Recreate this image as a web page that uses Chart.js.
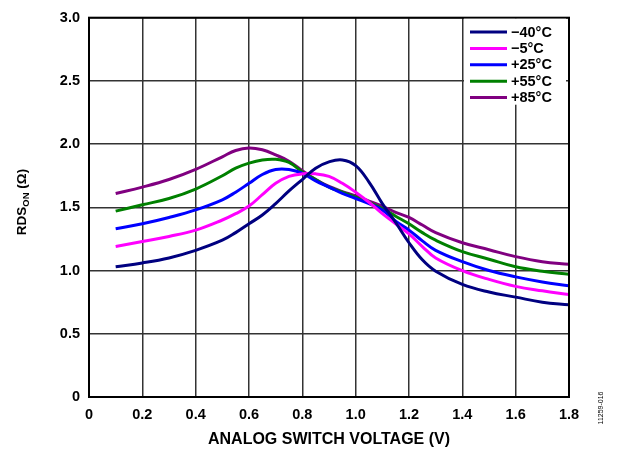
<!DOCTYPE html>
<html>
<head>
<meta charset="utf-8">
<script src="https://cdn.jsdelivr.net/npm/chart.js@4/dist/chart.umd.min.js"></script>
<style>
  html, body { margin: 0; padding: 0; background: #ffffff; }
  #wrap { width: 623px; height: 455px; }
</style>
</head>
<body>
<div id="wrap"><canvas id="c" width="623" height="455"></canvas></div>
<script>
// ---- data ----
const xValues = [0.1, 0.2, 0.3, 0.4, 0.5, 0.55, 0.6, 0.65, 0.7, 0.75, 0.8, 0.85, 0.9, 0.95, 1.0, 1.05, 1.1, 1.15, 1.2, 1.25, 1.3, 1.4, 1.5, 1.6, 1.7, 1.8];
const seriesLabels = ['\u221240\u00B0C', '\u22125\u00B0C', '+25\u00B0C', '+55\u00B0C', '+85\u00B0C'];
const rdsMinus40 = [1.03, 1.06, 1.10, 1.16, 1.24, 1.30, 1.37, 1.44, 1.53, 1.63, 1.72, 1.81, 1.86, 1.875, 1.83, 1.70, 1.53, 1.38, 1.22, 1.085, 0.995, 0.89, 0.83, 0.79, 0.75, 0.73];
const rdsMinus5  = [1.19, 1.23, 1.27, 1.32, 1.40, 1.45, 1.51, 1.60, 1.69, 1.745, 1.765, 1.765, 1.745, 1.69, 1.62, 1.54, 1.45, 1.37, 1.29, 1.19, 1.10, 1.00, 0.93, 0.875, 0.84, 0.81];
const rdsPlus25  = [1.33, 1.37, 1.42, 1.48, 1.56, 1.62, 1.69, 1.76, 1.80, 1.80, 1.77, 1.71, 1.66, 1.61, 1.57, 1.53, 1.48, 1.39, 1.32, 1.235, 1.16, 1.07, 1.00, 0.95, 0.91, 0.88];
const rdsPlus55  = [1.47, 1.52, 1.57, 1.645, 1.75, 1.81, 1.85, 1.875, 1.88, 1.855, 1.78, 1.72, 1.66, 1.62, 1.58, 1.54, 1.49, 1.43, 1.37, 1.30, 1.24, 1.15, 1.09, 1.03, 0.995, 0.97];
const rdsPlus85  = [1.61, 1.66, 1.72, 1.80, 1.90, 1.95, 1.97, 1.955, 1.915, 1.865, 1.79, 1.72, 1.665, 1.625, 1.59, 1.55, 1.51, 1.46, 1.42, 1.36, 1.30, 1.22, 1.165, 1.11, 1.07, 1.05];
const seriesColors = ['#000080', '#ff00ff', '#0000ff', '#008000', '#800080'];
const xTickStep = 0.2, xMin = 0, xMax = 1.8;
const yTickStep = 0.5, yMin = 0, yMax = 3.0;
const xTitle = 'ANALOG SWITCH VOLTAGE (V)';
const figureId = '11259-016';

const allSeries = [rdsMinus40, rdsMinus5, rdsPlus25, rdsPlus55, rdsPlus85];
const FONT = '"Liberation Sans", Arial, sans-serif';

const datasets = allSeries.map((s, k) => ({
  label: seriesLabels[k],
  data: xValues.map((x, i) => ({ x: x, y: s[i] })),
  borderColor: seriesColors[k],
  backgroundColor: seriesColors[k],
  borderWidth: 3,
  pointRadius: 0,
  fill: false,
  tension: 0.4
}));

const fmt = v => (Math.abs(v) < 1e-9 ? '0' : Number(v).toFixed(1));

const decor = {
  id: 'decor',
  afterDraw(chart) {
    const ctx = chart.ctx;
    const a = chart.chartArea;
    ctx.save();
    // plot frame
    ctx.strokeStyle = '#000';
    ctx.lineWidth = 2;
    ctx.strokeRect(a.left, a.top, a.right - a.left, a.bottom - a.top);

    // legend
    ctx.fillStyle = '#fff';
    ctx.fillRect(464, a.top + 1, 102, 86);
    ctx.font = 'bold 14.5px ' + FONT;
    ctx.textBaseline = 'middle';
    ctx.textAlign = 'left';
    chart.data.datasets.forEach((d, i) => {
      const y = 32 + i * 16.4;
      ctx.strokeStyle = d.borderColor;
      ctx.lineWidth = 3;
      ctx.beginPath();
      ctx.moveTo(470, y);
      ctx.lineTo(507, y);
      ctx.stroke();
      ctx.fillStyle = '#000';
      ctx.fillText(d.label, 511, y + 0.5);
    });

    // x title
    ctx.fillStyle = '#000';
    ctx.textAlign = 'center';
    ctx.textBaseline = 'middle';
    ctx.font = 'bold 16px ' + FONT;
    ctx.fillText(xTitle, (a.left + a.right) / 2, 440);

    // y title with subscript
    ctx.save();
    ctx.translate(22, 202);
    ctx.rotate(-Math.PI / 2);
    const big = 'bold 13.5px ' + FONT, small = 'bold 9.5px ' + FONT;
    ctx.font = big; const w1 = ctx.measureText('RDS').width;
    ctx.font = small; const w2 = ctx.measureText('ON').width;
    ctx.font = big; const w3 = ctx.measureText(' (\u03A9)').width;
    let x0 = -(w1 + w2 + w3) / 2;
    ctx.textAlign = 'left';
    ctx.textBaseline = 'middle';
    ctx.font = big; ctx.fillText('RDS', x0, 0);
    ctx.font = small; ctx.fillText('ON', x0 + w1, 4);
    ctx.font = big; ctx.fillText(' (\u03A9)', x0 + w1 + w2, 0);
    ctx.restore();

    // figure id
    ctx.save();
    ctx.translate(601, 408);
    ctx.rotate(-Math.PI / 2);
    ctx.font = '7px ' + FONT;
    ctx.textAlign = 'center';
    ctx.textBaseline = 'middle';
    ctx.fillStyle = '#000';
    ctx.fillText(figureId, 0, 0);
    ctx.restore();

    ctx.restore();
  }
};

new Chart(document.getElementById('c'), {
  type: 'line',
  data: { datasets: datasets },
  options: {
    responsive: false,
    animation: false,
    devicePixelRatio: 1,
    layout: { padding: { top: 16, right: 54, left: 0, bottom: 0 } },
    plugins: { legend: { display: false }, tooltip: { enabled: false } },
    scales: {
      x: {
        type: 'linear',
        min: xMin, max: xMax,
        afterFit(s) { s.height = 58; },
        ticks: {
          stepSize: xTickStep,
          color: '#000',
          padding: 9,
          maxRotation: 0,
          font: { family: FONT, size: 14.5, weight: 'bold' },
          callback: fmt
        },
        grid: { color: '#333', lineWidth: 1.5, drawTicks: false },
        border: { display: false }
      },
      y: {
        type: 'linear',
        min: yMin, max: yMax,
        afterFit(s) { s.width = 89; },
        ticks: {
          stepSize: yTickStep,
          color: '#000',
          padding: 9,
          font: { family: FONT, size: 14.5, weight: 'bold' },
          callback: fmt
        },
        grid: { color: '#333', lineWidth: 1.5, drawTicks: false },
        border: { display: false }
      }
    }
  },
  plugins: [decor]
});
</script>
</body>
</html>
